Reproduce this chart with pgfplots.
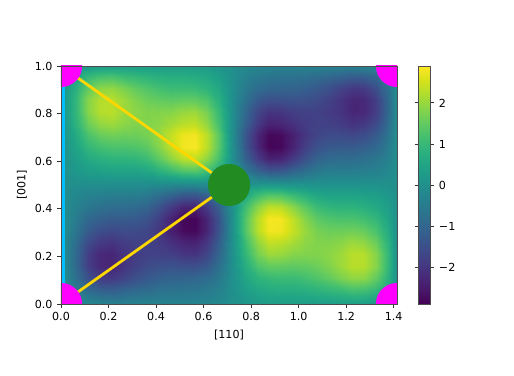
\documentclass[border=0pt]{standalone}
\usepackage{fontspec}
\setmainfont{DejaVu Sans}
\usepackage{pgfplots}
\pgfplotsset{compat=1.18}

\definecolor{sky}{HTML}{00BFFF}
\definecolor{goldline}{HTML}{FFD700}
\definecolor{forest}{HTML}{228B22}
\definecolor{fuchsia}{HTML}{FF00FF}

\begin{document}
\begin{tikzpicture}
\useasboundingbox (-45.75pt,-53.25pt) rectangle +(385.5pt,281.25pt);
\begin{axis}[
    at={(0pt,0pt)}, anchor=south west,
    scale only axis,
    width=252pt, height=178.5pt,
    xmin=0, xmax=1.414, ymin=0, ymax=1,
    axis on top,
    font=\fontsize{8.33pt}{10pt}\selectfont,
    /pgf/number format/assume math mode=true,
    xtick={0,0.2,0.4,0.6,0.8,1.0,1.2,1.4},
    ytick={0,0.2,0.4,0.6,0.8,1.0},
    xticklabel style={/pgf/number format/fixed,/pgf/number format/fixed zerofill,/pgf/number format/precision=1},
    yticklabel style={/pgf/number format/fixed,/pgf/number format/fixed zerofill,/pgf/number format/precision=1},
    xtick pos=bottom, ytick pos=left,
    tick align=outside,
    major tick length=2.9pt,
    tick style={line width=0.67pt,black!80},
    axis line style={line width=0.67pt,black!70},
    xlabel={[110]}, ylabel={[001]},
    ylabel style={yshift=-1pt},
    colormap name=viridis,
    point meta min=-2.9, point meta max=2.9,
    colorbar,
    colorbar style={
        at={(parent axis.north east)}, anchor=north west, xshift=7.5pt,
        width=9pt,
        ytick={-2,-1,0,1,2},
        yticklabels={−2,−1,0,1,2},
        font=\fontsize{8.33pt}{10pt}\selectfont,
        tick align=outside,
        major tick length=2.9pt,
        tick style={line width=0.67pt,black!80},
        axis line style={line width=0.67pt,black!70},
    },
]
\addplot[surf, shader=interp, mesh/cols=29, mesh/ordering=x varies, point meta=explicit]
table[row sep=\\, x=x, y=y, meta=z] {
x y z\\
0 0 0\\ .063 0 -.1\\ .113 0 -.2\\ .163 0 -.3\\ .213 0 -.35\\ .263 0 -.35\\ .313 0 -.3\\ .363 0 -.3\\ .413 0 -.3\\ .463 0 -.3\\ .513 0 -.3\\ .563 0 -.3\\ .613 0 -.25\\ .663 0 -.15\\ .72 0 0\\ .777 0 .15\\ .827 0 .25\\ .877 0 .3\\ .927 0 .3\\ .977 0 .3\\ 1.027 0 .3\\ 1.077 0 .3\\ 1.127 0 .3\\ 1.177 0 .35\\ 1.227 0 .35\\ 1.277 0 .3\\ 1.327 0 .2\\ 1.377 0 .1\\ 1.414 0 0\\
0 .058 0\\ .063 .058 -.55\\ .113 .058 -.95\\ .163 .058 -1.15\\ .213 .058 -1.2\\ .263 .058 -1.05\\ .313 .058 -.95\\ .363 .058 -.85\\ .413 .058 -.75\\ .463 .058 -.7\\ .513 .058 -.7\\ .563 .058 -.65\\ .613 .058 -.55\\ .663 .058 -.35\\ .72 .058 0\\ .777 .058 .35\\ .827 .058 .55\\ .877 .058 .65\\ .927 .058 .7\\ .977 .058 .7\\ 1.027 .058 .75\\ 1.077 .058 .85\\ 1.127 .058 .95\\ 1.177 .058 1.05\\ 1.227 .058 1.2\\ 1.277 .058 1.15\\ 1.327 .058 .95\\ 1.377 .058 .55\\ 1.414 .058 0\\
0 .108 0\\ .063 .108 -.8\\ .113 .108 -1.5\\ .163 .108 -1.9\\ .213 .108 -1.95\\ .263 .108 -1.75\\ .313 .108 -1.5\\ .363 .108 -1.3\\ .413 .108 -1.15\\ .463 .108 -1.05\\ .513 .108 -1.05\\ .563 .108 -1\\ .613 .108 -.85\\ .663 .108 -.55\\ .72 .108 0\\ .777 .108 .55\\ .827 .108 .85\\ .877 .108 1\\ .927 .108 1.05\\ .977 .108 1.05\\ 1.027 .108 1.15\\ 1.077 .108 1.3\\ 1.127 .108 1.5\\ 1.177 .108 1.75\\ 1.227 .108 1.95\\ 1.277 .108 1.9\\ 1.327 .108 1.5\\ 1.377 .108 .8\\ 1.414 .108 0\\
0 .158 0\\ .063 .158 -.95\\ .113 .158 -1.85\\ .163 .158 -2.25\\ .213 .158 -2.3\\ .263 .158 -2.05\\ .313 .158 -1.8\\ .363 .158 -1.6\\ .413 .158 -1.5\\ .463 .158 -1.45\\ .513 .158 -1.5\\ .563 .158 -1.5\\ .613 .158 -1.3\\ .663 .158 -.75\\ .72 .158 0\\ .777 .158 .75\\ .827 .158 1.3\\ .877 .158 1.5\\ .927 .158 1.5\\ .977 .158 1.45\\ 1.027 .158 1.5\\ 1.077 .158 1.6\\ 1.127 .158 1.8\\ 1.177 .158 2.05\\ 1.227 .158 2.3\\ 1.277 .158 2.25\\ 1.327 .158 1.85\\ 1.377 .158 .95\\ 1.414 .158 0\\
0 .208 0\\ .063 .208 -.95\\ .113 .208 -1.85\\ .163 .208 -2.25\\ .213 .208 -2.3\\ .263 .208 -2.05\\ .313 .208 -1.9\\ .363 .208 -1.8\\ .413 .208 -1.8\\ .463 .208 -1.85\\ .513 .208 -2\\ .563 .208 -2.05\\ .613 .208 -1.7\\ .663 .208 -1\\ .72 .208 0\\ .777 .208 1\\ .827 .208 1.7\\ .877 .208 2.05\\ .927 .208 2\\ .977 .208 1.85\\ 1.027 .208 1.8\\ 1.077 .208 1.8\\ 1.127 .208 1.9\\ 1.177 .208 2.05\\ 1.227 .208 2.3\\ 1.277 .208 2.25\\ 1.327 .208 1.85\\ 1.377 .208 .95\\ 1.414 .208 0\\
0 .258 0\\ .063 .258 -.85\\ .113 .258 -1.6\\ .163 .258 -1.95\\ .213 .258 -2.05\\ .263 .258 -1.9\\ .313 .258 -1.8\\ .363 .258 -1.8\\ .413 .258 -1.9\\ .463 .258 -2.1\\ .513 .258 -2.3\\ .563 .258 -2.35\\ .613 .258 -1.95\\ .663 .258 -1.15\\ .72 .258 0\\ .777 .258 1.15\\ .827 .258 1.95\\ .877 .258 2.35\\ .927 .258 2.3\\ .977 .258 2.1\\ 1.027 .258 1.9\\ 1.077 .258 1.8\\ 1.127 .258 1.8\\ 1.177 .258 1.9\\ 1.227 .258 2.05\\ 1.277 .258 1.95\\ 1.327 .258 1.6\\ 1.377 .258 .85\\ 1.414 .258 0\\
0 .308 0\\ .063 .308 -.65\\ .113 .308 -1.25\\ .163 .308 -1.55\\ .213 .308 -1.65\\ .263 .308 -1.6\\ .313 .308 -1.6\\ .363 .308 -1.7\\ .413 .308 -2\\ .463 .308 -2.4\\ .513 .308 -2.75\\ .563 .308 -2.8\\ .613 .308 -2.3\\ .663 .308 -1.4\\ .72 .308 0\\ .777 .308 1.4\\ .827 .308 2.3\\ .877 .308 2.8\\ .927 .308 2.75\\ .977 .308 2.4\\ 1.027 .308 2\\ 1.077 .308 1.7\\ 1.127 .308 1.6\\ 1.177 .308 1.6\\ 1.227 .308 1.65\\ 1.277 .308 1.55\\ 1.327 .308 1.25\\ 1.377 .308 .65\\ 1.414 .308 0\\
0 .358 0\\ .063 .358 -.5\\ .113 .358 -.95\\ .163 .358 -1.15\\ .213 .358 -1.25\\ .263 .358 -1.25\\ .313 .358 -1.3\\ .363 .358 -1.45\\ .413 .358 -1.85\\ .463 .358 -2.35\\ .513 .358 -2.8\\ .563 .358 -2.85\\ .613 .358 -2.3\\ .663 .358 -1.4\\ .72 .358 0\\ .777 .358 1.4\\ .827 .358 2.3\\ .877 .358 2.85\\ .927 .358 2.8\\ .977 .358 2.35\\ 1.027 .358 1.85\\ 1.077 .358 1.45\\ 1.127 .358 1.3\\ 1.177 .358 1.25\\ 1.227 .358 1.25\\ 1.277 .358 1.15\\ 1.327 .358 .95\\ 1.377 .358 .5\\ 1.414 .358 0\\
0 .408 0\\ .063 .408 -.35\\ .113 .408 -.6\\ .163 .408 -.75\\ .213 .408 -.85\\ .263 .408 -.85\\ .313 .408 -.9\\ .363 .408 -1.05\\ .413 .408 -1.45\\ .463 .408 -1.9\\ .513 .408 -2.3\\ .563 .408 -2.35\\ .613 .408 -1.9\\ .663 .408 -1.15\\ .72 .408 0\\ .777 .408 1.15\\ .827 .408 1.9\\ .877 .408 2.35\\ .927 .408 2.3\\ .977 .408 1.9\\ 1.027 .408 1.45\\ 1.077 .408 1.05\\ 1.127 .408 .9\\ 1.177 .408 .85\\ 1.227 .408 .85\\ 1.277 .408 .75\\ 1.327 .408 .6\\ 1.377 .408 .35\\ 1.414 .408 0\\
0 .458 0\\ .063 .458 -.2\\ .113 .458 -.35\\ .163 .458 -.4\\ .213 .458 -.45\\ .263 .458 -.45\\ .313 .458 -.45\\ .363 .458 -.55\\ .413 .458 -.8\\ .463 .458 -1.05\\ .513 .458 -1.3\\ .563 .458 -1.35\\ .613 .458 -1.1\\ .663 .458 -.6\\ .72 .458 0\\ .777 .458 .6\\ .827 .458 1.1\\ .877 .458 1.35\\ .927 .458 1.3\\ .977 .458 1.05\\ 1.027 .458 .8\\ 1.077 .458 .55\\ 1.127 .458 .45\\ 1.177 .458 .45\\ 1.227 .458 .45\\ 1.277 .458 .4\\ 1.327 .458 .35\\ 1.377 .458 .2\\ 1.414 .458 0\\
0 .508 0\\ .063 .508 0\\ .113 .508 0\\ .163 .508 0\\ .213 .508 0\\ .263 .508 0\\ .313 .508 0\\ .363 .508 0\\ .413 .508 0\\ .463 .508 0\\ .513 .508 0\\ .563 .508 0\\ .613 .508 0\\ .663 .508 0\\ .72 .508 0\\ .777 .508 0\\ .827 .508 0\\ .877 .508 0\\ .927 .508 0\\ .977 .508 0\\ 1.027 .508 0\\ 1.077 .508 0\\ 1.127 .508 0\\ 1.177 .508 0\\ 1.227 .508 0\\ 1.277 .508 0\\ 1.327 .508 0\\ 1.377 .508 0\\ 1.414 .508 0\\
0 .558 0\\ .063 .558 .2\\ .113 .558 .35\\ .163 .558 .4\\ .213 .558 .45\\ .263 .558 .45\\ .313 .558 .45\\ .363 .558 .55\\ .413 .558 .8\\ .463 .558 1.05\\ .513 .558 1.3\\ .563 .558 1.35\\ .613 .558 1.1\\ .663 .558 .6\\ .72 .558 0\\ .777 .558 -.6\\ .827 .558 -1.1\\ .877 .558 -1.35\\ .927 .558 -1.3\\ .977 .558 -1.05\\ 1.027 .558 -.8\\ 1.077 .558 -.55\\ 1.127 .558 -.45\\ 1.177 .558 -.45\\ 1.227 .558 -.45\\ 1.277 .558 -.4\\ 1.327 .558 -.35\\ 1.377 .558 -.2\\ 1.414 .558 0\\
0 .608 0\\ .063 .608 .35\\ .113 .608 .6\\ .163 .608 .75\\ .213 .608 .85\\ .263 .608 .85\\ .313 .608 .9\\ .363 .608 1.05\\ .413 .608 1.45\\ .463 .608 1.9\\ .513 .608 2.3\\ .563 .608 2.35\\ .613 .608 1.9\\ .663 .608 1.15\\ .72 .608 0\\ .777 .608 -1.15\\ .827 .608 -1.9\\ .877 .608 -2.35\\ .927 .608 -2.3\\ .977 .608 -1.9\\ 1.027 .608 -1.45\\ 1.077 .608 -1.05\\ 1.127 .608 -.9\\ 1.177 .608 -.85\\ 1.227 .608 -.85\\ 1.277 .608 -.75\\ 1.327 .608 -.6\\ 1.377 .608 -.35\\ 1.414 .608 0\\
0 .658 0\\ .063 .658 .5\\ .113 .658 .95\\ .163 .658 1.15\\ .213 .658 1.25\\ .263 .658 1.25\\ .313 .658 1.3\\ .363 .658 1.45\\ .413 .658 1.85\\ .463 .658 2.35\\ .513 .658 2.8\\ .563 .658 2.85\\ .613 .658 2.3\\ .663 .658 1.4\\ .72 .658 0\\ .777 .658 -1.4\\ .827 .658 -2.3\\ .877 .658 -2.85\\ .927 .658 -2.8\\ .977 .658 -2.35\\ 1.027 .658 -1.85\\ 1.077 .658 -1.45\\ 1.127 .658 -1.3\\ 1.177 .658 -1.25\\ 1.227 .658 -1.25\\ 1.277 .658 -1.15\\ 1.327 .658 -.95\\ 1.377 .658 -.5\\ 1.414 .658 0\\
0 .708 0\\ .063 .708 .65\\ .113 .708 1.25\\ .163 .708 1.55\\ .213 .708 1.65\\ .263 .708 1.6\\ .313 .708 1.6\\ .363 .708 1.7\\ .413 .708 2\\ .463 .708 2.4\\ .513 .708 2.75\\ .563 .708 2.8\\ .613 .708 2.3\\ .663 .708 1.4\\ .72 .708 0\\ .777 .708 -1.4\\ .827 .708 -2.3\\ .877 .708 -2.8\\ .927 .708 -2.75\\ .977 .708 -2.4\\ 1.027 .708 -2\\ 1.077 .708 -1.7\\ 1.127 .708 -1.6\\ 1.177 .708 -1.6\\ 1.227 .708 -1.65\\ 1.277 .708 -1.55\\ 1.327 .708 -1.25\\ 1.377 .708 -.65\\ 1.414 .708 0\\
0 .758 0\\ .063 .758 .85\\ .113 .758 1.6\\ .163 .758 1.95\\ .213 .758 2.05\\ .263 .758 1.9\\ .313 .758 1.8\\ .363 .758 1.8\\ .413 .758 1.9\\ .463 .758 2.1\\ .513 .758 2.3\\ .563 .758 2.35\\ .613 .758 1.95\\ .663 .758 1.15\\ .72 .758 0\\ .777 .758 -1.15\\ .827 .758 -1.95\\ .877 .758 -2.35\\ .927 .758 -2.3\\ .977 .758 -2.1\\ 1.027 .758 -1.9\\ 1.077 .758 -1.8\\ 1.127 .758 -1.8\\ 1.177 .758 -1.9\\ 1.227 .758 -2.05\\ 1.277 .758 -1.95\\ 1.327 .758 -1.6\\ 1.377 .758 -.85\\ 1.414 .758 0\\
0 .808 0\\ .063 .808 .95\\ .113 .808 1.85\\ .163 .808 2.25\\ .213 .808 2.3\\ .263 .808 2.05\\ .313 .808 1.9\\ .363 .808 1.8\\ .413 .808 1.8\\ .463 .808 1.85\\ .513 .808 2\\ .563 .808 2.05\\ .613 .808 1.7\\ .663 .808 1\\ .72 .808 0\\ .777 .808 -1\\ .827 .808 -1.7\\ .877 .808 -2.05\\ .927 .808 -2\\ .977 .808 -1.85\\ 1.027 .808 -1.8\\ 1.077 .808 -1.8\\ 1.127 .808 -1.9\\ 1.177 .808 -2.05\\ 1.227 .808 -2.3\\ 1.277 .808 -2.25\\ 1.327 .808 -1.85\\ 1.377 .808 -.95\\ 1.414 .808 0\\
0 .858 0\\ .063 .858 .95\\ .113 .858 1.85\\ .163 .858 2.25\\ .213 .858 2.3\\ .263 .858 2.05\\ .313 .858 1.8\\ .363 .858 1.6\\ .413 .858 1.5\\ .463 .858 1.45\\ .513 .858 1.5\\ .563 .858 1.5\\ .613 .858 1.3\\ .663 .858 .75\\ .72 .858 0\\ .777 .858 -.75\\ .827 .858 -1.3\\ .877 .858 -1.5\\ .927 .858 -1.5\\ .977 .858 -1.45\\ 1.027 .858 -1.5\\ 1.077 .858 -1.6\\ 1.127 .858 -1.8\\ 1.177 .858 -2.05\\ 1.227 .858 -2.3\\ 1.277 .858 -2.25\\ 1.327 .858 -1.85\\ 1.377 .858 -.95\\ 1.414 .858 0\\
0 .908 0\\ .063 .908 .8\\ .113 .908 1.5\\ .163 .908 1.9\\ .213 .908 1.95\\ .263 .908 1.75\\ .313 .908 1.5\\ .363 .908 1.3\\ .413 .908 1.15\\ .463 .908 1.05\\ .513 .908 1.05\\ .563 .908 1\\ .613 .908 .85\\ .663 .908 .55\\ .72 .908 0\\ .777 .908 -.55\\ .827 .908 -.85\\ .877 .908 -1\\ .927 .908 -1.05\\ .977 .908 -1.05\\ 1.027 .908 -1.15\\ 1.077 .908 -1.3\\ 1.127 .908 -1.5\\ 1.177 .908 -1.75\\ 1.227 .908 -1.95\\ 1.277 .908 -1.9\\ 1.327 .908 -1.5\\ 1.377 .908 -.8\\ 1.414 .908 0\\
0 .958 0\\ .063 .958 .55\\ .113 .958 .95\\ .163 .958 1.15\\ .213 .958 1.2\\ .263 .958 1.05\\ .313 .958 .95\\ .363 .958 .85\\ .413 .958 .75\\ .463 .958 .7\\ .513 .958 .7\\ .563 .958 .65\\ .613 .958 .55\\ .663 .958 .35\\ .72 .958 0\\ .777 .958 -.35\\ .827 .958 -.55\\ .877 .958 -.65\\ .927 .958 -.7\\ .977 .958 -.7\\ 1.027 .958 -.75\\ 1.077 .958 -.85\\ 1.127 .958 -.95\\ 1.177 .958 -1.05\\ 1.227 .958 -1.2\\ 1.277 .958 -1.15\\ 1.327 .958 -.95\\ 1.377 .958 -.55\\ 1.414 .958 0\\
0 1 0\\ .063 1 .1\\ .113 1 .2\\ .163 1 .3\\ .213 1 .35\\ .263 1 .35\\ .313 1 .3\\ .363 1 .3\\ .413 1 .3\\ .463 1 .3\\ .513 1 .3\\ .563 1 .3\\ .613 1 .25\\ .663 1 .15\\ .72 1 0\\ .777 1 -.15\\ .827 1 -.25\\ .877 1 -.3\\ .927 1 -.3\\ .977 1 -.3\\ 1.027 1 -.3\\ 1.077 1 -.3\\ 1.127 1 -.3\\ 1.177 1 -.35\\ 1.227 1 -.35\\ 1.277 1 -.3\\ 1.327 1 -.2\\ 1.377 1 -.1\\ 1.414 1 0\\
};
\addplot[sky, line width=2.6pt] coordinates {(0.008,0) (0.008,1)};
\addplot[goldline, line width=2.1pt] coordinates {(0,0) (0.707,0.5)};
\addplot[goldline, line width=2.1pt] coordinates {(0,1) (0.707,0.5)};
% corner discs: round-capped stubs, so the axis clip cuts them like scatter markers
\addplot[fuchsia, line width=31.5pt, line cap=round] coordinates {(0,0) (0.0005,0)};
\addplot[fuchsia, line width=31.5pt, line cap=round] coordinates {(0,1) (0.0005,1)};
\addplot[fuchsia, line width=31.5pt, line cap=round] coordinates {(1.414,0) (1.4135,0)};
\addplot[fuchsia, line width=31.5pt, line cap=round] coordinates {(1.414,1) (1.4135,1)};
\addplot[forest, line width=31.5pt, line cap=round] coordinates {(0.707,0.5) (0.7075,0.5)};
\end{axis}
\end{tikzpicture}
\end{document}
